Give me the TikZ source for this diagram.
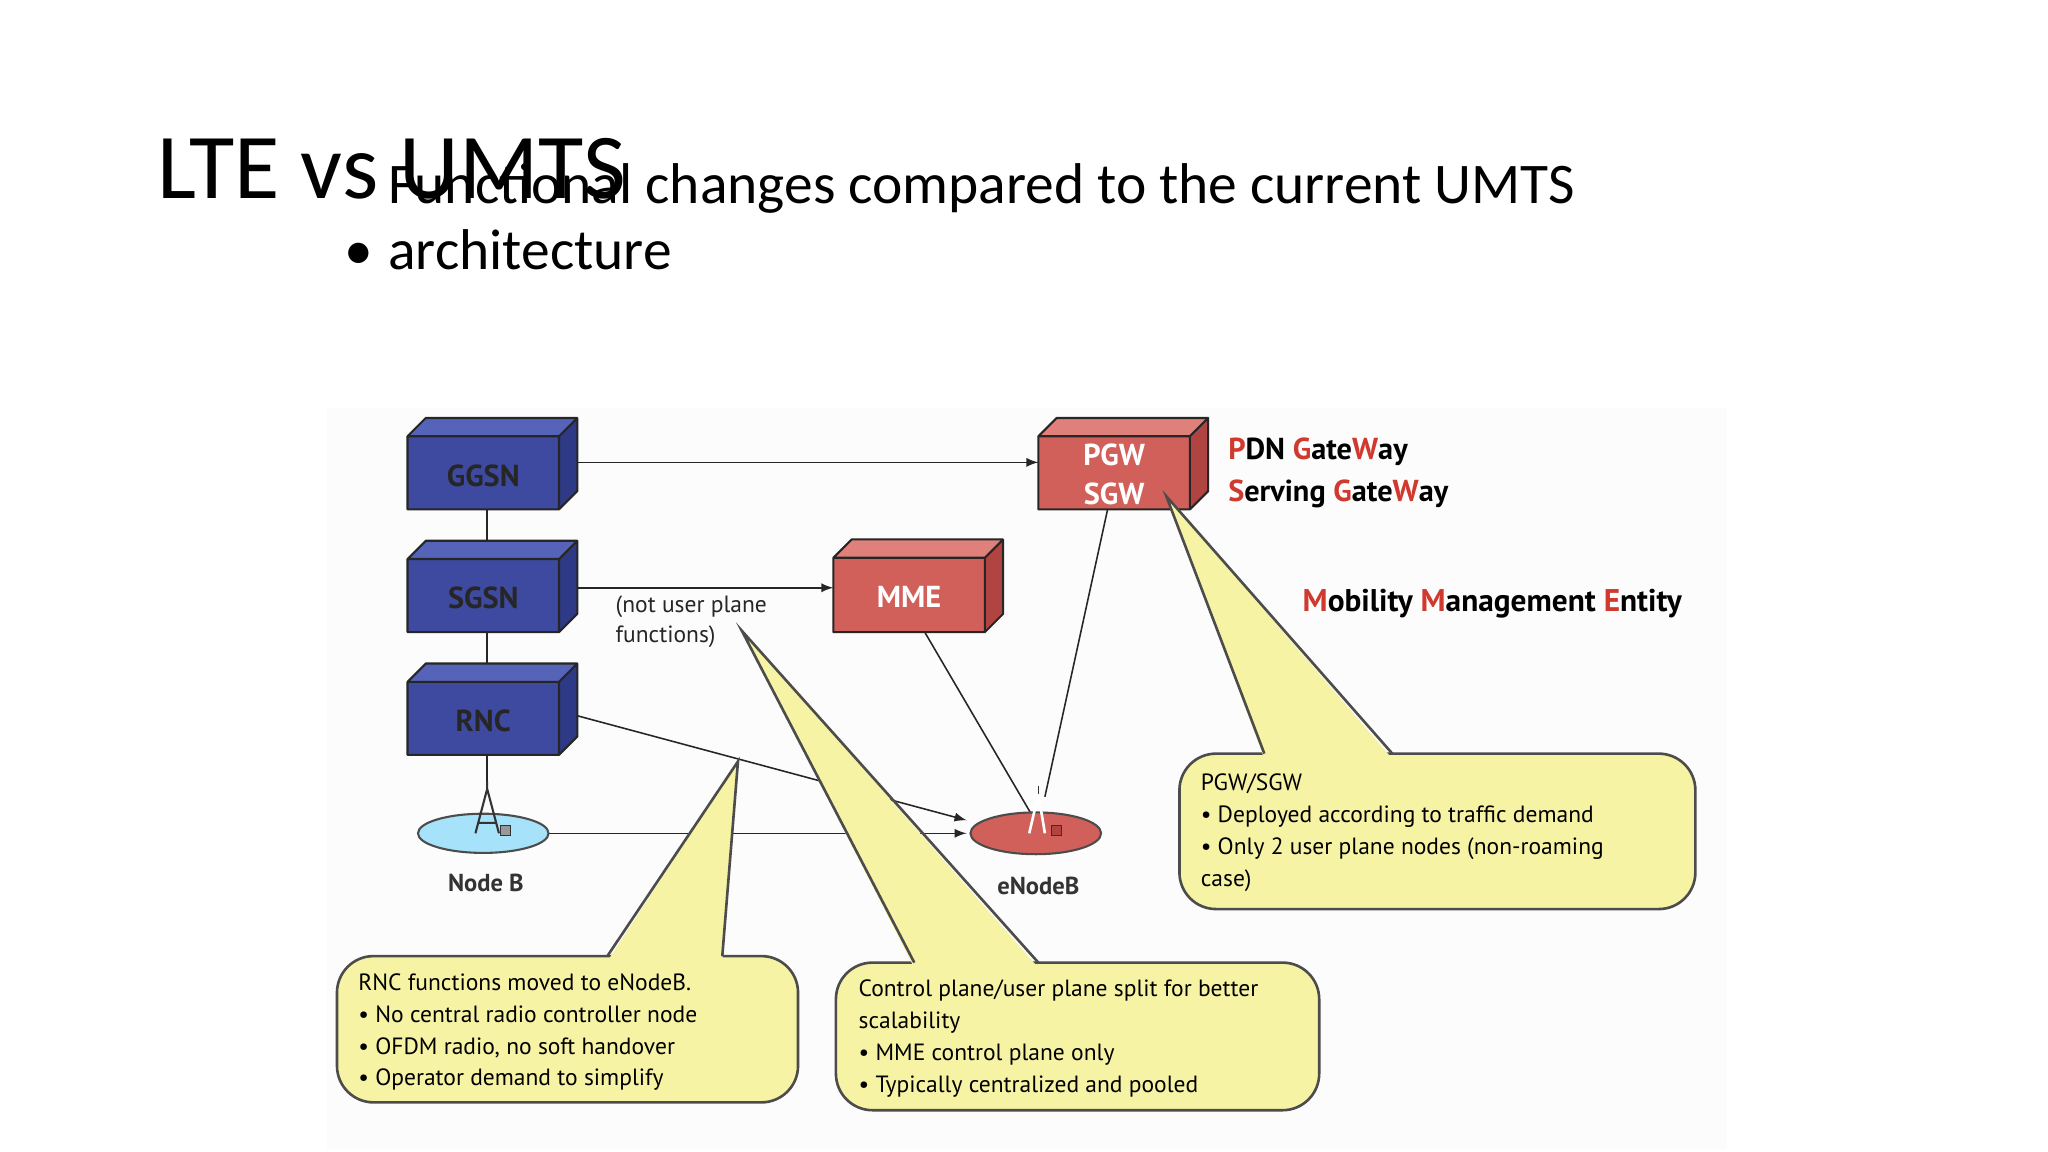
\documentclass[tikz,border=0pt]{standalone}
\usepackage{fontspec}
\usetikzlibrary{shapes.geometric}
\setmainfont{Carlito}
\newfontfamily\dia{PT Sans}
\begin{document}
\begin{tikzpicture}[x=0.5pt,y=-0.5pt,
  lbl/.style={font=\dia\bfseries\fontsize{11.6}{12}\selectfont},
  ln/.style={draw=black!85,line width=0.6pt},
  arr/.style={ln,-latex},
  call/.style={draw=black!70,line width=1pt},
  ctxt/.style={font=\dia\fontsize{9}{12.2}\selectfont,anchor=north west,align=left,inner sep=0pt}]
\useasboundingbox (0,0) rectangle (1568,882);
\definecolor{bfront}{HTML}{3D4AA0}\definecolor{btop}{HTML}{5563B8}\definecolor{bside}{HTML}{2E3A85}
\definecolor{rfront}{HTML}{D2605A}\definecolor{rtop}{HTML}{E0807A}\definecolor{rside}{HTML}{B04440}
\definecolor{redt}{HTML}{D03A2E}\definecolor{callc}{HTML}{F7F3A4}
\fill[black!1] (250,312) rectangle (1322,880);
\node[anchor=base west,inner sep=0pt,font=\fontsize{35.5}{36}\selectfont] (title) at (120,152) {LTE vs UMTS};
\node[anchor=base west,inner sep=0pt,font=\fontsize{22}{25}\selectfont,align=left] (sub) at (297,206) {Functional changes compared to the current UMTS\\architecture};
\node[anchor=base east,inner sep=0pt,font=\fontsize{22}{25}\selectfont] (bul) at (286,206) {\textbullet};
% boxes
\newcommand{\cube}[7]{% x1 y1 x2 y2 front top side
  \fill[#5] (#1,#2) rectangle (#3,#4);
  \fill[#6] (#1,#2) -- (#1+14,#2-14) -- (#3+14,#2-14) -- (#3,#2) -- cycle;
  \fill[#7] (#3,#2) -- (#3+14,#2-14) -- (#3+14,#4-14) -- (#3,#4) -- cycle;
  \draw[black!85,line width=0.8pt,line join=round] (#1,#2) rectangle (#3,#4) (#1,#2) -- (#1+14,#2-14) -- (#3+14,#2-14) -- (#3+14,#4-14) -- (#3,#4) (#3,#2) -- (#3+14,#2-14);}
\cube{312}{334}{428}{390}{bfront}{btop}{bside}
\cube{312}{428}{428}{484}{bfront}{btop}{bside}
\cube{312}{522}{428}{578}{bfront}{btop}{bside}
\cube{795}{334}{911}{390}{rfront}{rtop}{rside}
\cube{638}{427}{754}{484}{rfront}{rtop}{rside}
\node[lbl,black!85] (ggsn) at (370,364) {GGSN};
\node[lbl,black!85] (sgsn) at (370,458) {SGSN};
\node[lbl,black!85] (rnc) at (370,552) {RNC};
\node[lbl,white,align=center,font=\dia\bfseries\fontsize{11.6}{15}\selectfont] (pgw) at (853,363) {PGW\\SGW};
\node[lbl,white] (mme) at (696,457) {MME};
\coordinate (gR) at (442,354); \coordinate (pL) at (795,354);
\coordinate (sR) at (442,450); \coordinate (mL) at (638,450);
\coordinate (gB) at (373,390); \coordinate (sT) at (373,414); \coordinate (sB) at (373,484); \coordinate (rT) at (373,508);
\coordinate (rB) at (373,578); \coordinate (ant) at (373,604);
\coordinate (rR) at (442,548); \coordinate (eA) at (740,628);
\coordinate (nR) at (420,638); \coordinate (eB) at (740,638);
\coordinate (mB) at (708,484); \coordinate (eC) at (790,624);
\coordinate (pB) at (848,390); \coordinate (eD) at (800,610);
\draw[arr] (gR) -- (pL);
\draw[arr] (sR) -- (mL);
\draw[ln] (gB) -- (sT); \draw[ln] (sB) -- (rT); \draw[ln] (rB) -- (ant);
\draw[arr] (rR) -- (eA);
\draw[arr] (nR) -- (eB);
\draw[ln] (mB) -- (eC);
\draw[ln] (pB) -- (eD);
% node B / eNodeB
\node[ellipse,draw=black!70,fill=cyan!35,minimum width=50pt,minimum height=15pt,inner sep=0pt,line width=0.8pt] (nodeb) at (370,638) {};
\draw[black!80,line width=0.8pt] (364,638)--(373,604)--(382,638) (373,604)--(373,598) (366,630)--(380,630);
\draw[black!80,fill=black!40] (383,632) rectangle (391,640);
\node[ellipse,draw=black!70,fill=rfront,minimum width=50pt,minimum height=16pt,inner sep=0pt,line width=0.8pt] (enb) at (793,638) {};
\draw[white,line width=1pt] (788,638)--(795,608)--(800,638);
\draw[black!80,fill=rside] (805,632) rectangle (813,640);
\draw[black!80] (795,608)--(795,602);
\node[lbl,font=\dia\bfseries\fontsize{9.4}{10}\selectfont,black!80] (nbl) at (372,676) {Node B};
\node[lbl,font=\dia\bfseries\fontsize{9.4}{10}\selectfont,black!80] (enbl) at (795,678) {eNodeB};
\node[anchor=north west,inner sep=0pt,align=left,font=\dia\fontsize{9}{11.5}\selectfont,black!85] (nup) at (471,456) {(not user plane\\functions)};
\node[anchor=base west,inner sep=0pt,lbl] (pdn) at (940,352) {\textcolor{redt}{P}DN \textcolor{redt}{G}ate\textcolor{redt}{W}ay};
\node[anchor=base west,inner sep=0pt,lbl] (sgw) at (940,384) {\textcolor{redt}{S}erving \textcolor{redt}{G}ate\textcolor{redt}{W}ay};
\node[anchor=base west,inner sep=0pt,lbl,font=\dia\bfseries\fontsize{12}{12}\selectfont] (mmel) at (997,468) {\textcolor{redt}{M}obility \textcolor{redt}{M}anagement \textcolor{redt}{E}ntity};
% callouts
\newcommand{\callout}[8]{% x1 y1 x2 y2 b1 b2 tipx tipy
  \draw[call,fill=callc,rounded corners=14] (#1,#2) rectangle (#3,#4);
  \fill[callc] (#5,#2+4) -- (#7,#8) -- (#6,#2+4) -- cycle;
  \draw[call,line join=miter] (#5,#2) -- (#7,#8) -- (#6,#2);}
\callout{258}{732}{611}{844}{465}{553}{565}{583}
\callout{640}{737}{1010}{850}{700}{795}{568}{483}
\callout{903}{577}{1298}{696}{968}{1066}{893}{380}
\node[ctxt] (c1) at (274,745) {RNC functions moved to eNodeB.\\\textbullet\ No central radio controller node\\\textbullet\ OFDM radio, no soft handover\\\textbullet\ Operator demand to simplify};
\node[ctxt] (c2) at (657,750) {Control plane/user plane split for better\\scalability\\\textbullet\ MME control plane only\\\textbullet\ Typically centralized and pooled};
\node[ctxt] (c3) at (919,592) {PGW/SGW\\\textbullet\ Deployed according to traffic demand\\\textbullet\ Only 2 user plane nodes (non-roaming\\case)};
\end{tikzpicture}
\end{document}
